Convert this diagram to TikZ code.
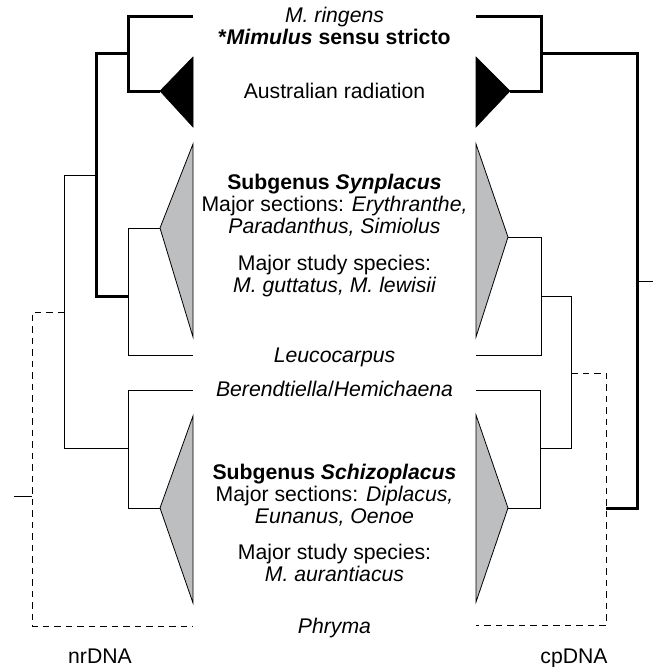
\documentclass[tikz,border=0pt]{standalone}
\usepackage{fontspec}
\setmainfont{Liberation Sans}
\definecolor{triGray}{RGB}{188,190,192}
\tikzset{
  thickln/.style={line width=3pt, line join=miter},
  thinln/.style={line width=1pt, line join=miter},
  dashln/.style={line width=1pt, dash pattern=on 6.5pt off 5pt},
  blktri/.style={fill=black, draw=black, line width=0.6pt},
  grytri/.style={fill=triGray, draw=black, line width=0.8pt, line join=miter},
  lbl/.style={font=\fontsize{21.2}{22}\selectfont, anchor=base, inner sep=0pt}
}
\begin{document}
\begin{tikzpicture}[x=1pt,y=-1pt]
\useasboundingbox (0,0) rectangle (653,667);
% ---------- coordinates, left tree (nrDNA)
\coordinate (Lring) at (193,16);
\coordinate (La1) at (128,16);
\coordinate (La2) at (128,91);
\coordinate (LausA) at (160,91);
\coordinate (LausT) at (193,57);
\coordinate (LausB) at (193,127);
\coordinate (Lb0) at (128,53);
\coordinate (Lb1) at (96,53);
\coordinate (Lb2) at (96,296);
\coordinate (Lb3) at (128,296);
\coordinate (Lc1) at (128,228);
\coordinate (LsynA) at (160,228);
\coordinate (LsynT) at (193,144);
\coordinate (LsynB) at (193,337);
\coordinate (Lc2) at (128,355.5);
\coordinate (Lleu) at (193,355.5);
\coordinate (Ld0) at (96,175);
\coordinate (Ld1) at (64,175);
\coordinate (Ld2) at (64,448);
\coordinate (Ld3) at (128,448);
\coordinate (Le1) at (128,390);
\coordinate (Lber) at (193,390);
\coordinate (Le2) at (128,508);
\coordinate (LschA) at (160,508);
\coordinate (LschT) at (193,416);
\coordinate (LschB) at (193,603);
\coordinate (Lf0) at (64,312);
\coordinate (Lf1) at (32,312);
\coordinate (Lf2) at (32,626);
\coordinate (Lphr) at (193,626);
\coordinate (Lr0) at (32,496);
\coordinate (Lr1) at (14,496);
% ---------- coordinates, right tree (cpDNA)
\coordinate (Rring) at (476,16);
\coordinate (Ra1) at (541,16);
\coordinate (Ra2) at (541,91);
\coordinate (RausA) at (510,91);
\coordinate (RausT) at (476,57);
\coordinate (RausB) at (476,127);
\coordinate (Rb0) at (541,53);
\coordinate (Rb1) at (637,53);
\coordinate (Rb2) at (637,508);
\coordinate (Rb3) at (606,508);
\coordinate (Rr0) at (637,281);
\coordinate (Rr1) at (653,281);
\coordinate (RsynA) at (508,237);
\coordinate (RsynT) at (476,144);
\coordinate (RsynB) at (476,337);
\coordinate (Rc1) at (541,237);
\coordinate (Rc2) at (541,355.5);
\coordinate (Rleu) at (476,355.5);
\coordinate (Rd0) at (541,296);
\coordinate (Rd1) at (571,296);
\coordinate (Rd2) at (571,448);
\coordinate (Rd3) at (540,448);
\coordinate (Rber) at (476,390);
\coordinate (Re1) at (540,390);
\coordinate (Re2) at (540,508);
\coordinate (RschA) at (508,508);
\coordinate (RschT) at (476,415);
\coordinate (RschB) at (476,602);
\coordinate (Rf0) at (571,373);
\coordinate (Rf1) at (606,373);
\coordinate (Rf2) at (606,625);
\coordinate (Rphr) at (476,625);
% ---------- triangles
\fill[blktri] (LausA) -- (LausT) -- (LausB) -- cycle;
\fill[blktri] (RausA) -- (RausT) -- (RausB) -- cycle;
\filldraw[grytri] (LsynA) -- (LsynT) -- (LsynB) -- cycle;
\filldraw[grytri] (LschA) -- (LschT) -- (LschB) -- cycle;
\filldraw[grytri] (RsynA) -- (RsynT) -- (RsynB) -- cycle;
\filldraw[grytri] (RschA) -- (RschT) -- (RschB) -- cycle;
% ---------- left tree branches
\draw[thinln] (LsynA) -- (Lc1) -- (Lc2) -- (Lleu);
\draw[thinln] (Ld0) -- (Ld1) -- (Ld2) -- (Ld3);
\draw[thinln] (Lber) -- (Le1) -- (Le2) -- (LschA);
\draw[thinln] (Lr1) -- (Lr0);
\draw[dashln] (Lf0) -- (Lf1) -- (Lf2) -- (Lphr);
\draw[thickln] (Lring) -- (La1) -- (La2) -- (LausA);
\draw[thickln] (Lb0) -- (Lb1) -- (Lb2) -- (Lb3);
% ---------- right tree branches
\draw[thinln] (RsynA) -- (Rc1) -- (Rc2) -- (Rleu);
\draw[thinln] (Rd0) -- (Rd1) -- (Rd2) -- (Rd3);
\draw[thinln] (Rber) -- (Re1) -- (Re2) -- (RschA);
\draw[thinln] (Rr0) -- (Rr1);
\draw[dashln] (Rf0) -- (Rf1) -- (Rf2) -- (Rphr);
\draw[thickln] (Rring) -- (Ra1) -- (Ra2) -- (RausA);
\draw[thickln] (Rb0) -- (Rb1) -- (Rb2) -- (Rb3);
% ---------- labels
\node[lbl] (t1) at (334.5,22) {\itshape M. ringens};
\node[lbl] (t2) at (334.5,44) {\bfseries *\textit{Mimulus} sensu stricto};
\node[lbl] (t3) at (334.5,98) {Australian radiation};
\node[lbl] (t4) at (334.5,189) {\bfseries Subgenus \textit{Synplacus}};
\node[lbl] (t5) at (334.5,211) {Major sections: \textit{Erythranthe,}};
\node[lbl] (t6) at (334.5,233) {\itshape Paradanthus, Simiolus};
\node[lbl] (t7) at (334.5,270) {Major study species:};
\node[lbl] (t8) at (334.5,292) {\itshape M. guttatus, M. lewisii};
\node[lbl] (t9) at (334.5,362) {\itshape Leucocarpus};
\node[lbl] (t10) at (334.5,396) {\textit{Berendtiella}/\textit{Hemichaena}};
\node[lbl] (t11) at (334.5,479) {\bfseries Subgenus \textit{Schizoplacus}};
\node[lbl] (t12) at (334.5,501) {Major sections: \textit{Diplacus,}};
\node[lbl] (t13) at (334.5,523) {\itshape Eunanus, Oenoe};
\node[lbl] (t14) at (334.5,559) {Major study species:};
\node[lbl] (t15) at (334.5,581) {\itshape M. aurantiacus};
\node[lbl] (t16) at (334.5,633) {\itshape Phryma};
\node[lbl] (nr) at (100,663) {nrDNA};
\node[lbl] (cp) at (574,663) {cpDNA};
\end{tikzpicture}
\end{document}
